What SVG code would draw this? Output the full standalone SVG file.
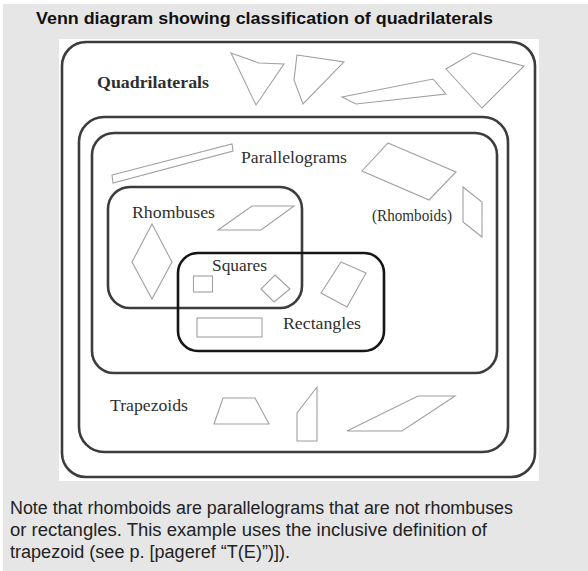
<svg xmlns="http://www.w3.org/2000/svg" width="588" height="571" viewBox="0 0 588 571">
<style>
.set{fill:none;stroke:#3c3c3c;stroke-width:2.6}
.setk{fill:none;stroke:#151515;stroke-width:2.6}
.shp{fill:none;stroke:#a0a0a0;stroke-width:1.1;stroke-linejoin:miter}
.lbl{font-family:"Liberation Serif",serif;font-size:16px;fill:#2e2e2e}
.sans{font-family:"Liberation Sans",Arial,sans-serif}
</style>
<rect x="0" y="0" width="588" height="571" fill="#ffffff"/>
<rect x="3" y="4" width="585" height="567" fill="#e6e6e6"/>
<text x="36" y="24" class="sans" font-size="17" font-weight="bold" fill="#111" textLength="457" lengthAdjust="spacingAndGlyphs">Venn diagram showing classification of quadrilaterals</text>
<rect x="59" y="39" width="480" height="442" fill="#ffffff"/>

<g id="quadrilaterals">
<rect class="set" x="62" y="42" width="473" height="435" rx="24"/>
<text class="lbl" x="97" y="88" font-weight="bold" fill="#222" textLength="112" lengthAdjust="spacingAndGlyphs">Quadrilaterals</text>
<polygon class="shp" points="231,53 259,63 284,64 256,105"/>
<polygon class="shp" points="297,55 344,62 303,104 294,80"/>
<polygon class="shp" points="342,97 433,79 446,94 356,104"/>
<polygon class="shp" points="473,53 524,66 482,108 446,69"/>
</g>

<g id="trapezoids">
<rect class="set" x="79" y="117" width="429" height="335" rx="25"/>
<text class="lbl" x="110" y="411" textLength="78" lengthAdjust="spacingAndGlyphs">Trapezoids</text>
<polygon class="shp" points="223,398 255,398 269,424 214,424"/>
<polygon class="shp" points="317,387 317,441 297,441 297,413"/>
<polygon class="shp" points="418,396 455,396 402,431 347,431"/>
</g>

<g id="parallelograms">
<rect class="set" x="92" y="133" width="405" height="240" rx="22"/>
<text class="lbl" x="241" y="163" textLength="106" lengthAdjust="spacingAndGlyphs">Parallelograms</text>
<text class="lbl" x="372" y="221" font-size="13" textLength="80" lengthAdjust="spacingAndGlyphs">(Rhomboids)</text>
<polygon class="shp" points="112,175 232,144 233,151 113,183"/>
<polygon class="shp" points="388,143 456,172 429,200 362,171"/>
<polygon class="shp" points="463,187 482,202 482,237 463,222"/>
</g>

<g id="rhombuses">
<rect class="set" x="108" y="187" width="194" height="121" rx="22"/>
<text class="lbl" x="132" y="218" textLength="83" lengthAdjust="spacingAndGlyphs">Rhombuses</text>
<polygon class="shp" points="218,230 252,206 294,206 261,230"/>
<polygon class="shp" points="152,224 172,262 152,299 132,262"/>
</g>

<g id="rectangles">
<rect class="setk" x="178" y="253" width="206" height="98" rx="20"/>
<text class="lbl" x="283" y="329" textLength="78" lengthAdjust="spacingAndGlyphs">Rectangles</text>
<polygon class="shp" points="341,262 366,273 347,307 321,293"/>
<rect class="shp" x="197" y="318" width="65" height="19"/>
</g>

<g id="squares">
<text class="lbl" x="212" y="271" textLength="55" lengthAdjust="spacingAndGlyphs">Squares</text>
<rect class="shp" x="193.5" y="276" width="19" height="16"/>
<polygon class="shp" points="275,275 290,289 274,302 261,289"/>
</g>

<g id="connectors"></g>

<g id="note" class="sans" font-size="18" fill="#222">
<text x="10" y="514" textLength="503" lengthAdjust="spacingAndGlyphs">Note that rhomboids are parallelograms that are not rhombuses</text>
<text x="10" y="536" textLength="477" lengthAdjust="spacingAndGlyphs">or rectangles. This example uses the inclusive definition of</text>
<text x="10" y="558" textLength="280" lengthAdjust="spacingAndGlyphs">trapezoid (see p. [pageref “T(E)”)]).</text>
</g>
</svg>
